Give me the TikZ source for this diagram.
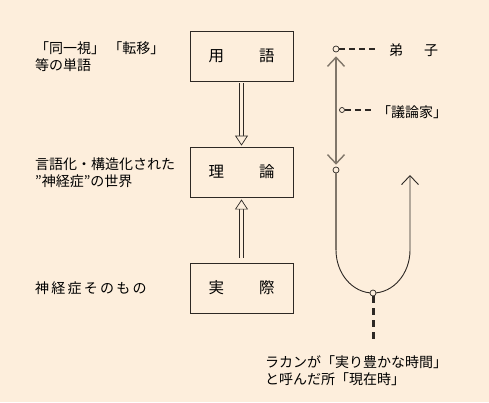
\documentclass[tikz,border=0pt]{standalone}
\usepackage{fontspec}
\setmainfont{Noto Sans CJK JP}
\newfontfamily\widejp[LetterSpace=16]{Noto Sans CJK JP}
\usetikzlibrary{arrows.meta}
\definecolor{paper}{RGB}{253,238,220}
\definecolor{inkgray}{RGB}{128,118,106}
\definecolor{ink}{RGB}{45,40,36}

\begin{document}
\begin{tikzpicture}[x=1pt,y=-1pt]

\tikzset{
  box/.style={draw=ink, line width=0.9pt, minimum width=103pt, minimum height=50pt, inner sep=0pt, font=\fontsize{15.5}{18}\selectfont},
  note/.style={anchor=west, align=left, inner sep=0pt, font=\fontsize{14}{17}\selectfont},
  hollow/.style={draw=ink, line width=0.7pt, double=paper, double distance=3pt, -{Triangle[length=10pt,width=13pt,line width=0.7pt,fill=paper]}},
  knot/.style={circle, draw=ink, fill=paper, line width=0.7pt, inner sep=0pt, minimum size=6pt},
  leader/.style={ink, line width=1.8pt, dash pattern=on 6pt off 4pt},
  barb/.tip={Straight Barb[length=9pt,width=17pt]}
}

\fill[paper] (0,0) rectangle (489,402);

\node[box] (yougo) at (241.5,56) {用\hspace{35pt}語};
\node[box] (riron) at (241.5,172) {理\hspace{35pt}論};
\node[box] (jissai) at (241.5,288) {実\hspace{35pt}際};

\draw[hollow, shorten <=2pt, shorten >=1pt] (yougo) -- (riron);
\draw[hollow, shorten <=5pt, shorten >=2pt] (jissai) -- (riron);

\node[note] (tango) at (35,57) {「同一視」 「転移」\\等の単語};
\node[note] (sekai) at (35,172.5) {言語化・構造化された\\”神経症”の世界};
\node[note, font=\widejp\fontsize{14}{17}\selectfont] (sonomono) at (35,288) {神経症そのもの};

\node[knot] (deshi) at (336,49) {};
\node[knot, minimum size=5pt] (giron) at (342,110) {};
\node[knot] (kyoukai) at (336,170) {};
\coordinate (uleft) at (336,250);
\coordinate (ubottom) at (373,293);
\coordinate (uright) at (410,250);
\coordinate (utop) at (410,175);

\draw[inkgray, line width=1.4pt, barb-barb, shorten <=4pt, shorten >=2pt] (deshi) -- (kyoukai);
\draw[inkgray, line width=1.4pt] (kyoukai) -- (uleft);
\draw[ink, line width=0.9pt, -barb] (uleft) .. controls +(0,23.7) and +(-20.4,0) .. (ubottom) .. controls +(20.4,0) and +(0,23.7) .. (uright) -- (utop);
\node[knot] (genzai) at (ubottom) {};

\node[note] (deshitext) at (389,50) {弟\hspace{21pt}子};
\node[note] (girontext) at (377,112) {「議論家」};
\node[note] (lacan) at (265,370.5) {ラカンが「実り豊かな時間」\\と呼んだ所「現在時」};

\draw[leader, shorten >=11pt] (deshi) -- (deshi -| deshitext.west);
\draw[leader, shorten >=4pt] (giron) -- (giron -| girontext.west);
\draw[leader, line width=3pt, dash pattern=on 7pt off 5pt, shorten >=15pt] (genzai) -- (lacan.north -| genzai);

\end{tikzpicture}
\end{document}
